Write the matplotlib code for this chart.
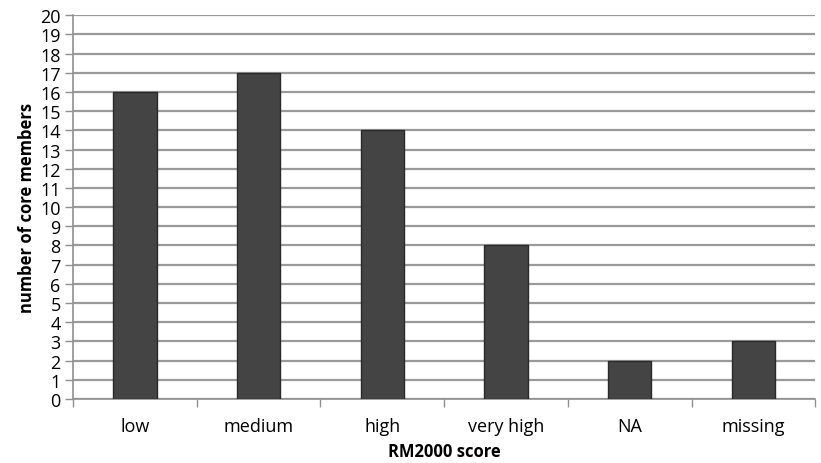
import numpy as np
import matplotlib.pyplot as plt
from matplotlib.ticker import FixedLocator

categories = ['low', 'medium', 'high', 'very high', 'NA', 'missing']
counts = [16, 17, 14, 8, 2, 3]

plt.rcParams['font.family'] = ['Open Sans', 'DejaVu Sans']

fig = plt.figure(figsize=(8.21, 4.64), dpi=100)
ax = fig.add_axes([0.089, 0.138, 0.904, 0.827])

x = np.arange(len(categories))
ax.bar(x, counts, width=0.35, color='#444444', edgecolor='#2a2a2a', linewidth=1, zorder=3)

ax.set_xlim(-0.5, len(categories) - 0.5)
ax.set_ylim(0, 20)
ax.set_yticks(range(0, 21))
ax.yaxis.grid(True, color='#9a9a9a', linewidth=1.6, zorder=0)

ax.set_xticks(x)
ax.set_xticklabels(categories)
ax.xaxis.set_minor_locator(FixedLocator(np.arange(-0.5, len(categories), 1.0)))
ax.tick_params(axis='x', which='major', length=0, pad=13, labelsize=13)
ax.tick_params(axis='x', which='minor', length=6, width=1, color='#909090', direction='out')
ax.tick_params(axis='y', length=6, width=1, color='#909090', labelsize=13, pad=3)

for side in ['top', 'right']:
    ax.spines[side].set_visible(False)
for side in ['left', 'bottom']:
    ax.spines[side].set_color('#909090')
    ax.spines[side].set_linewidth(1.2)

ax.set_xlabel('RM2000 score', fontweight='bold', fontsize=12, labelpad=5)
ax.set_ylabel('number of core members', fontweight='bold', fontsize=12, labelpad=3)

fig.savefig('out.png', dpi=100, facecolor='white')
